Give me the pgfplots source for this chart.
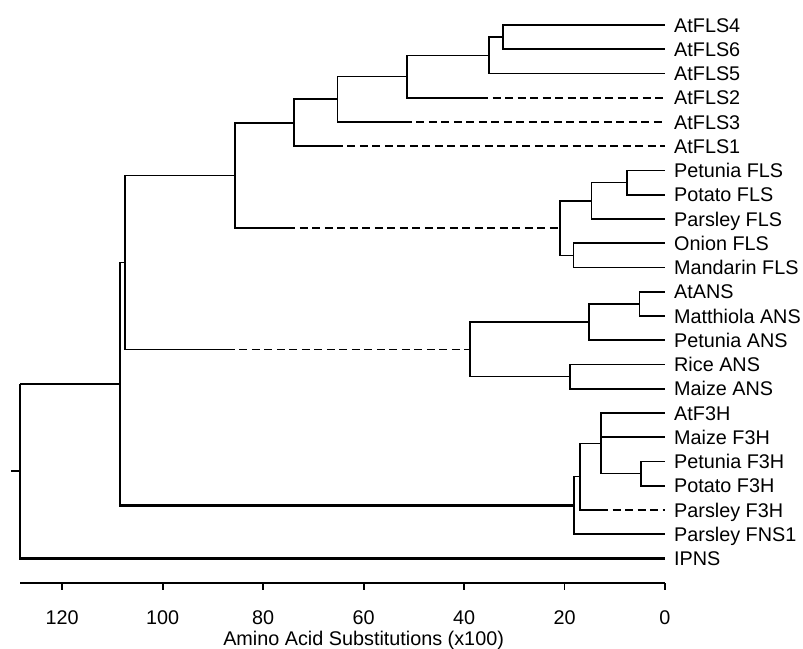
\documentclass[border=0pt]{standalone}
\usepackage{pgfplots}
\pgfplotsset{compat=1.18}
\usepackage{pgfplotstable}
\usepackage{fontspec}
\setmainfont{Liberation Sans}

% leaf labels: x, y (row from bottom), name
\pgfplotstableread[col sep=comma]{
x,y,lab
0,22,AtFLS4
0,21,AtFLS6
0,20,AtFLS5
0,19,AtFLS2
0,18,AtFLS3
0,17,AtFLS1
0,16,Petunia FLS
0,15,Potato FLS
0,14,Parsley FLS
0,13,Onion FLS
0,12,Mandarin FLS
0,11,AtANS
0,10,Matthiola ANS
0,9,Petunia ANS
0,8,Rice ANS
0,7,Maize ANS
0,6,AtF3H
0,5,Maize F3H
0,4,Petunia F3H
0,3,Potato F3H
0,2,Parsley F3H
0,1,Parsley FNS1
0,0,IPNS
}\leaves

\begin{document}
\begin{tikzpicture}
\pgfplotsset{
  br/.style={black, line width=1.6bp, mark=none},
  brd/.style={br, dash pattern=on 8bp off 4.5bp, dash phase=8bp},
  brk/.style={br, line width=2.4bp},
}
\begin{axis}[
  name=ax, scale only axis, clip=false,
  width=645bp, height=557.75bp,
  x dir=reverse, xmin=0, xmax=128.4, ymin=-1, ymax=22,
  axis x line*=bottom, axis y line=none,
  x axis line style={line width=1.9bp},
  xtick={0,20,...,120}, ytick=\empty,
  tick align=outside, major tick length=7bp,
  tick style={black, line width=1.9bp},
  /pgf/number format/assume math mode=true,
  xticklabel style={font=\fontsize{19.8bp}{23bp}\selectfont, anchor=base, yshift=-34.25bp},
  xlabel={Amino Acid Substitutions (x100)},
  xlabel style={font=\fontsize{19.8bp}{23bp}\selectfont, at={(axis cs:60,-1)}, anchor=base, yshift=-62.25bp},
]
% AtFLS group
\addplot[br] coordinates {(0,22) (32.2,22) (32.2,21) (0,21)};
\addplot[br] coordinates {(32.2,21.5) (35.0,21.5) (35.0,20) (0,20)};
\addplot[br] coordinates {(35.0,20.75) (51.3,20.75) (51.3,19) (35.2,19)};
\addplot[brd] coordinates {(35.2,19) (0,19)};
\addplot[br] coordinates {(51.3,19.875) (65.2,19.875) (65.2,18) (50.4,18)};
\addplot[brd] coordinates {(50.4,18) (0,18)};
\addplot[br] coordinates {(65.2,18.94) (73.8,18.94) (73.8,17) (64.1,17)};
\addplot[brd] coordinates {(64.1,17) (0,17)};
% FLS group
\addplot[br] coordinates {(0,16) (7.6,16) (7.6,15) (0,15)};
\addplot[br] coordinates {(7.6,15.5) (14.6,15.5) (14.6,14) (0,14)};
\addplot[br] coordinates {(0,13) (18.2,13) (18.2,12) (0,12)};
\addplot[br] coordinates {(14.6,14.75) (20.9,14.75) (20.9,12.5) (18.2,12.5)};
\addplot[br] coordinates {(73.8,17.97) (85.6,17.97) (85.6,13.625) (73.6,13.625)};
\addplot[brd] coordinates {(73.6,13.625) (20.9,13.625)};
% ANS group
\addplot[br] coordinates {(0,11) (5.1,11) (5.1,10) (0,10)};
\addplot[br] coordinates {(5.1,10.5) (15.1,10.5) (15.1,9) (0,9)};
\addplot[br] coordinates {(0,8) (18.9,8) (18.9,7) (0,7)};
\addplot[br] coordinates {(15.1,9.75) (38.8,9.75) (38.8,7.5) (18.9,7.5)};
\addplot[br] coordinates {(85.6,15.80) (107.5,15.80) (107.5,8.625) (85.6,8.625)};
\addplot[brd] coordinates {(85.6,8.625) (38.8,8.625)};
% F3H group
\addplot[br] coordinates {(0,4) (4.8,4) (4.8,3) (0,3)};
\addplot[br] coordinates {(0,6) (12.7,6) (12.7,3.5) (4.8,3.5)};
\addplot[br] coordinates {(12.7,5) (0,5)};
\addplot[br] coordinates {(12.7,4.75) (16.9,4.75) (16.9,2) (11.3,2)};
\addplot[brd] coordinates {(11.3,2) (0,2)};
\addplot[br] coordinates {(16.9,3.375) (18.1,3.375) (18.1,1) (0,1)};
% deep nodes
\addplot[br] coordinates {(107.5,12.21) (108.5,12.21) (108.5,5.6)};
\addplot[brk] coordinates {(108.5,5.6) (108.5,2.19) (18.1,2.19)};
\addplot[br] coordinates {(108.5,7.2) (128.4,7.2)};
\addplot[brk] coordinates {(128.4,7.2) (128.4,0) (0,0)};
\addplot[br] coordinates {(128.4,3.6) (130.1,3.6)};
% leaf labels
\addplot[draw=none, mark=none, nodes near coords, point meta=explicit symbolic,
  every node near coord/.append style={anchor=base west, inner sep=0pt, xshift=9bp, yshift=-7.1bp,
  font=\fontsize{19.8bp}{23bp}\selectfont, text=black}]
  table[x=x, y=y, meta=lab] {\leaves};
\end{axis}
\pgfresetboundingbox
\path[use as bounding box] ([xshift=-20bp,yshift=-66.25bp]ax.south west) rectangle ([xshift=138bp,yshift=25bp]ax.north east);
\end{tikzpicture}
\end{document}
